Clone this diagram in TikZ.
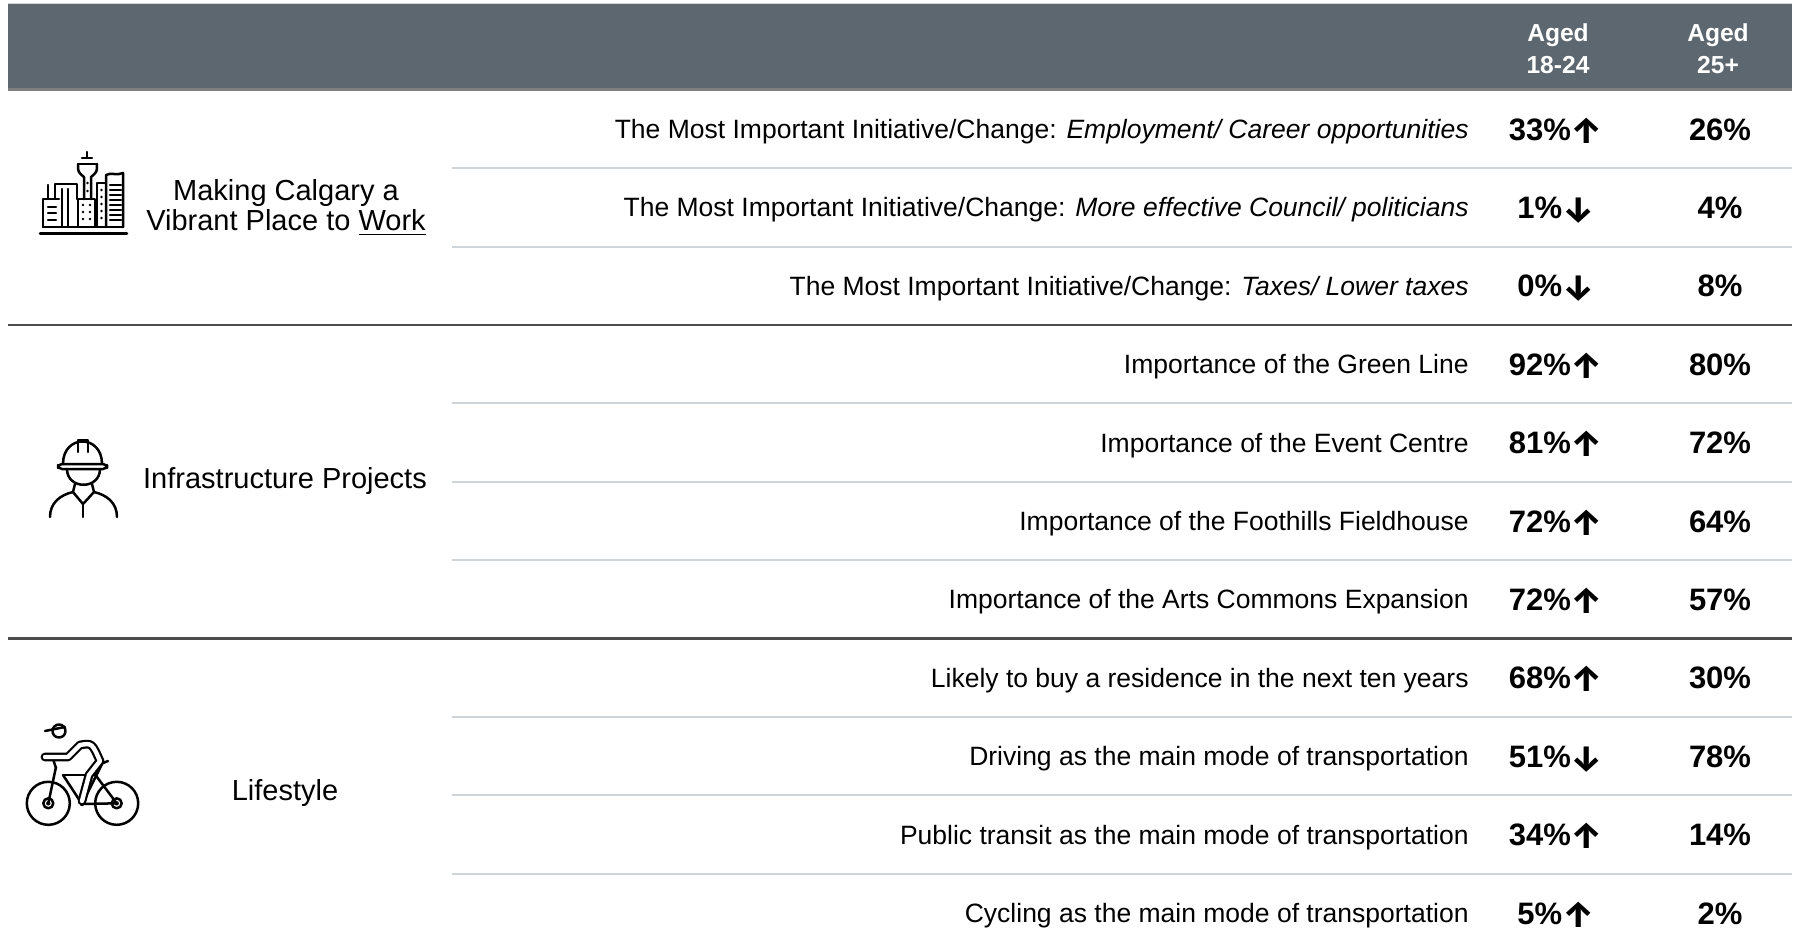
\documentclass[tikz,border=0pt]{standalone}
\usepackage{fontspec}
\setmainfont{Liberation Sans}
\newfontfamily\arrowfont{Fira Sans}
\usetikzlibrary{positioning}
\definecolor{hdrgray}{HTML}{5D6770}
\definecolor{hdrline}{HTML}{7E7E7E}
\definecolor{rulegray}{HTML}{CFD4D8}
\definecolor{darkrule}{HTML}{4D4D4D}
\newcommand{\trendup}{\raisebox{-1.5pt}{\arrowfont\bfseries\fontsize{18}{18}\selectfont ↑}}
\newcommand{\trenddn}{\raisebox{-1.5pt}{\arrowfont\bfseries\fontsize{18}{18}\selectfont ↓}}

\begin{document}
\begin{tikzpicture}[x=0.5pt,y=-0.5pt,
    hdr/.style={text=white,font=\fontsize{12.3}{16}\selectfont\bfseries,align=center},
    grp/.style={font=\fontsize{14.5}{15}\selectfont,align=center},
    lbl/.style={anchor=east,inner sep=0pt,text height=9.5pt,text depth=0pt,font=\fontsize{13.25}{16}\selectfont},
    val/.style={inner sep=0pt,text height=11pt,text depth=0pt,font=\fontsize{15.5}{18}\selectfont\bfseries},
    sep/.style={rulegray,line width=1pt},
    divider/.style={darkrule,line width=1.4pt},
    icon/.style={line width=1.25pt,line cap=round,line join=round}
]
\useasboundingbox (0,0) rectangle (1797,948);

% === Header ===
\fill[hdrgray] (8,4) rectangle (1792,89);
\draw[rulegray,line width=0.6pt] (8,3.5) -- (1792,3.5);
\draw[hdrline,line width=1.4pt] (8,89.5) -- (1792,89.5);
\node[hdr] (age1) at (1558,49) {Aged\\18-24};
\node[hdr] (age2) at (1718,49) {Aged\\25+};

% === Row rules ===
\draw[sep] (452,168.2) -- (1792,168.2);
\draw[sep] (452,246.6) -- (1792,246.6);
\draw[divider] (8,325) -- (1792,325);
\draw[sep] (452,403.4) -- (1792,403.4);
\draw[sep] (452,481.8) -- (1792,481.8);
\draw[sep] (452,560.2) -- (1792,560.2);
\draw[divider] (8,638.6) -- (1792,638.6);
\draw[sep] (452,717) -- (1792,717);
\draw[sep] (452,795.4) -- (1792,795.4);
\draw[sep] (452,873.8) -- (1792,873.8);

% === Work ===
\node[grp] (work) at (286,207.5) {Making Calgary a\\Vibrant Place to \underline{Work}};

\node[lbl] (q1) at (1469,129) {The Most Important Initiative/Change: \textit{Employment/ Career opportunities}};
\node[val] (a1) at (1556,129) {33\%\trendup};
\node[val] (b1) at (1720,129) {26\%};

\node[lbl] (q2) at (1469,207.4) {The Most Important Initiative/Change: \textit{More effective Council/ politicians}};
\node[val] (a2) at (1556,207.4) {1\%\trenddn};
\node[val] (b2) at (1720,207.4) {4\%};

\node[lbl] (q3) at (1469,285.8) {The Most Important Initiative/Change: \textit{Taxes/ Lower taxes}};
\node[val] (a3) at (1556,285.8) {0\%\trenddn};
\node[val] (b3) at (1720,285.8) {8\%};

% === Infrastructure ===
\node[grp] (infra) at (285,481) {Infrastructure Projects};

\node[lbl] (q4) at (1469,364.2) {Importance of the Green Line};
\node[val] (a4) at (1556,364.2) {92\%\trendup};
\node[val] (b4) at (1720,364.2) {80\%};

\node[lbl] (q5) at (1469,442.6) {Importance of the Event Centre};
\node[val] (a5) at (1556,442.6) {81\%\trendup};
\node[val] (b5) at (1720,442.6) {72\%};

\node[lbl] (q6) at (1469,521) {Importance of the Foothills Fieldhouse};
\node[val] (a6) at (1556,521) {72\%\trendup};
\node[val] (b6) at (1720,521) {64\%};

\node[lbl] (q7) at (1469,599.4) {Importance of the Arts Commons Expansion};
\node[val] (a7) at (1556,599.4) {72\%\trendup};
\node[val] (b7) at (1720,599.4) {57\%};

% === Lifestyle ===
\node[grp] (life) at (285,793) {Lifestyle};

\node[lbl] (q8) at (1469,677.8) {Likely to buy a residence in the next ten years};
\node[val] (a8) at (1556,677.8) {68\%\trendup};
\node[val] (b8) at (1720,677.8) {30\%};

\node[lbl] (q9) at (1469,756.2) {Driving as the main mode of transportation};
\node[val] (a9) at (1556,756.2) {51\%\trenddn};
\node[val] (b9) at (1720,756.2) {78\%};

\node[lbl] (q10) at (1469,834.6) {Public transit as the main mode of transportation};
\node[val] (a10) at (1556,834.6) {34\%\trendup};
\node[val] (b10) at (1720,834.6) {14\%};

\node[lbl] (q11) at (1469,913) {Cycling as the main mode of transportation};
\node[val] (a11) at (1556,913) {5\%\trendup};
\node[val] (b11) at (1720,913) {2\%};

% === City icon ===
\begin{scope}[shift={(35,145)},icon]
    \draw (5,88.3) -- (92,88.3);
    \draw (8,82) -- (88,82);
    % left block
    \draw (8,82) -- (8,54) -- (24,54);
    \draw (13,54) -- (13,40);
    \draw (13,62) -- (21,62) (13,68) -- (21,68) (13,75) -- (21,75);
    % second block
    \draw (20,54) -- (20,39) -- (42,39) -- (42,54);
    \draw (27,44) -- (27,82) (33,44) -- (33,82);
    % tower
    \draw (52,7) -- (52,13) (47,13) -- (57,13);
    \draw (43,19) -- (62,19);
    \draw (43,19) .. controls (43,27) .. (49,32) -- (49,54);
    \draw (62,19) .. controls (62,27) .. (56,32) -- (56,54);
    \fill (52.5,38) circle (1.3) (52.5,46) circle (1.3);
    % middle block
    \draw (43,82) -- (43,54) -- (60,54) -- (60,82);
    \fill (48,60) circle (1.3) (55,60) circle (1.3) (48,67) circle (1.3) (55,67) circle (1.3) (48,74) circle (1.3) (55,74) circle (1.3);
    % narrow block
    \draw (62,82) -- (62,38) -- (71,38);
    \fill (66.5,45) circle (1.3) (66.5,52) circle (1.3) (66.5,59) circle (1.3) (66.5,66) circle (1.3) (66.5,73) circle (1.3);
    % right tower
    \draw (71,82) -- (71,30) .. controls (76,27) and (82,31) .. (88,28) -- (88,82);
    \draw (75,40) -- (86,40) (75,45) -- (86,45) (75,50) -- (86,50) (75,55) -- (86,55) (75,60) -- (86,60) (75,65) -- (86,65) (75,70) -- (86,70) (75,75) -- (86,75);
\end{scope}

% === Worker icon ===
\begin{scope}[shift={(40,435)},icon]
    \draw[rounded corners=2] (18,29) rectangle (67,34);
    \draw (23,29) .. controls (23,-1) and (62,-1) .. (62,29);
    \draw (38,17) -- (38,5) -- (48,5) -- (48,17);
    \draw (27,34) .. controls (27,55) and (60,55) .. (60,34);
    \draw (35,49) -- (33,57) -- (43,69) -- (54,57) -- (52,49);
    \draw (43,69) -- (43,82);
    \draw (10,82) .. controls (10,68) and (20,60) .. (33,57);
    \draw (54,57) .. controls (67,60) and (77,68) .. (77,82);
\end{scope}

% === Bike icon ===
\begin{scope}[shift={(20,715)},icon]
    \draw (28.3,88.3) circle (21.5) (28.3,88.3) circle (5);
    \fill (28.3,88.3) circle (2.2);
    \draw (96.7,88.3) circle (21.5) (96.7,88.3) circle (5);
    \fill (96.7,88.3) circle (2.2);
    \fill (62,89) circle (2.2);
    % frame
    \draw (28.3,88.3) -- (36,52);
    \draw (62,89) -- (96.7,88.3);
    \draw (43,60) -- (62,89);
    \draw (43,60) -- (76,60);
    \draw (96.7,88.3) -- (74,58);
    \draw (82,49) -- (62,89);
    \draw (78,50) -- (88,46);
    \draw (33,44) -- (36,53);
    % rider
    \draw (39,16) circle (6.5);
    \draw (25,16) -- (45,12);
    \draw[line width=1.1pt,double=white,double distance=2.2pt] (25,42) -- (48,42) -- (60,30) .. controls (72,28) .. (80,46) -- (69,60) -- (62,86);
\end{scope}

\end{tikzpicture}
\end{document}
